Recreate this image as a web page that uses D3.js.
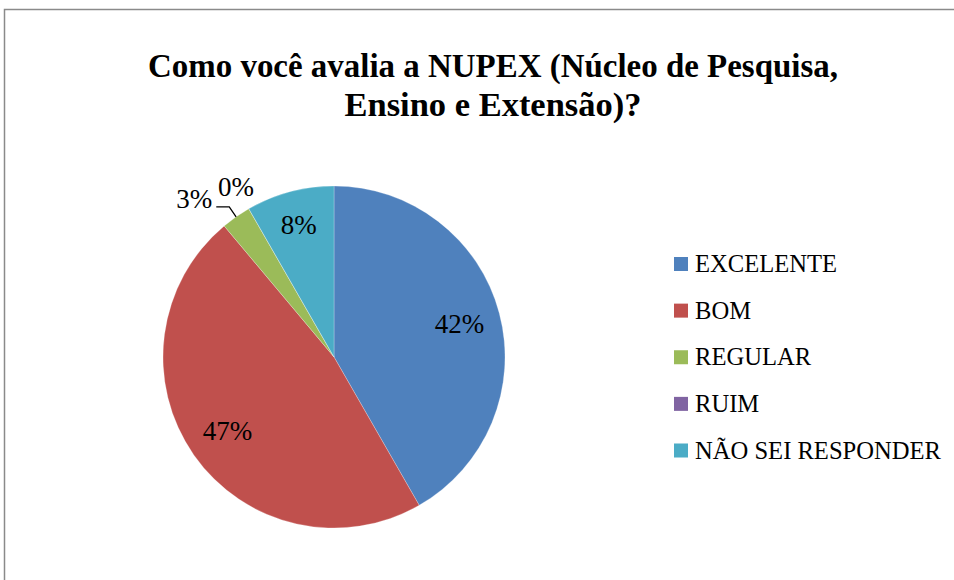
<!DOCTYPE html>
<html>
<head>
<meta charset="utf-8">
<script src="https://cdn.jsdelivr.net/npm/d3@7"></script>
<style>
  html, body { margin: 0; padding: 0; background: #fff; }
  svg { display: block; }
</style>
</head>
<body>
<svg id="chart" width="954" height="580"></svg>
<script>
// ---- data ----
const titleLines = ["Como você avalia a NUPEX (Núcleo de Pesquisa,", "Ensino e Extensão)?"];
const categories = ["EXCELENTE", "BOM", "REGULAR", "RUIM", "NÃO SEI RESPONDER"];
const values = [41.7, 47.2, 2.8, 0, 8.3];
const colors = ["#4F81BD", "#C0504D", "#9BBB59", "#8064A2", "#4BACC6"];

const svg = d3.select("#chart");
const W = 954, H = 580;

// frame
svg.append("rect")
  .attr("x", 4.5).attr("y", 9.5)
  .attr("width", W + 20).attr("height", H + 20)
  .attr("fill", "#fff").attr("stroke", "#8a8a8a").attr("stroke-width", 1.5);

// title
const title = svg.append("text")
  .attr("text-anchor", "middle")
  .attr("font-family", "'Liberation Serif', 'DejaVu Serif', serif")
  .attr("font-weight", "bold")
  .attr("font-size", 33)
  .attr("fill", "#000");
const titleWidths = [690, 297];
titleLines.forEach((t, i) => {
  title.append("tspan")
    .attr("x", 493)
    .attr("y", 77 + i * 39)
    .attr("textLength", titleWidths[i])
    .attr("lengthAdjust", "spacingAndGlyphs")
    .text(t);
});

// pie
const cx = 334, cy = 357, r = 171;
const total = d3.sum(values);
const pie = d3.pie().sort(null).value(d => d)(values);
const arc = d3.arc().innerRadius(0).outerRadius(r);
const g = svg.append("g").attr("transform", `translate(${cx},${cy})`);

g.selectAll("path.slice")
  .data(pie)
  .join("path")
  .attr("class", "slice")
  .attr("d", arc)
  .attr("fill", (d, i) => colors[i])
  .attr("stroke", "#ffffff")
  .attr("stroke-opacity", 0.35)
  .attr("stroke-width", 0.7);

const labelFont = "'Liberation Serif', 'DejaVu Serif', serif";
const pt = (a, rad) => [rad * Math.sin(a), -rad * Math.cos(a)];

pie.forEach((d, i) => {
  const pct = Math.round(d.value / total * 100) + "%";
  const mid = (d.startAngle + d.endAngle) / 2;
  if (d.value / total >= 0.05) {
    const rr = d.value / total < 0.15 ? r * 0.8 : r * 0.76;
    const [x, y] = pt(mid, rr);
    g.append("text")
      .attr("x", x).attr("y", y)
      .attr("text-anchor", "middle")
      .attr("dominant-baseline", "central")
      .attr("font-family", labelFont)
      .attr("font-size", 27)
      .attr("fill", "#000")
      .text(pct);
  } else if (d.value > 0) {
    const [x0, y0] = pt(mid, r);
    const [x1, y1] = pt(mid, r * 1.07);
    const x2 = x1 - 13;
    g.append("path")
      .attr("d", `M${x0},${y0}L${x1},${y1}L${x2},${y1}`)
      .attr("fill", "none").attr("stroke", "#000").attr("stroke-width", 1.3);
    g.append("text")
      .attr("x", x2 - 4).attr("y", y1 + 1)
      .attr("text-anchor", "end")
      .attr("font-family", labelFont)
      .attr("font-size", 27)
      .attr("fill", "#000")
      .text(pct);
  } else {
    const [x, y] = pt(mid, r * 1.15);
    g.append("text")
      .attr("x", x).attr("y", y)
      .attr("text-anchor", "middle")
      .attr("dominant-baseline", "central")
      .attr("font-family", labelFont)
      .attr("font-size", 27)
      .attr("fill", "#000")
      .text(pct);
  }
});

// legend
const ly = d3.scalePoint().domain(categories).range([264, 450.5]);
const leg = svg.append("g");
categories.forEach((c, i) => {
  leg.append("rect")
    .attr("x", 674).attr("y", ly(c) - 7)
    .attr("width", 14).attr("height", 14)
    .attr("fill", colors[i]);
  leg.append("text")
    .attr("x", 695).attr("y", ly(c) + 8)
    .attr("font-family", labelFont)
    .attr("font-size", 24.6)
    .attr("fill", "#000")
    .text(c);
});
</script>
</body>
</html>
